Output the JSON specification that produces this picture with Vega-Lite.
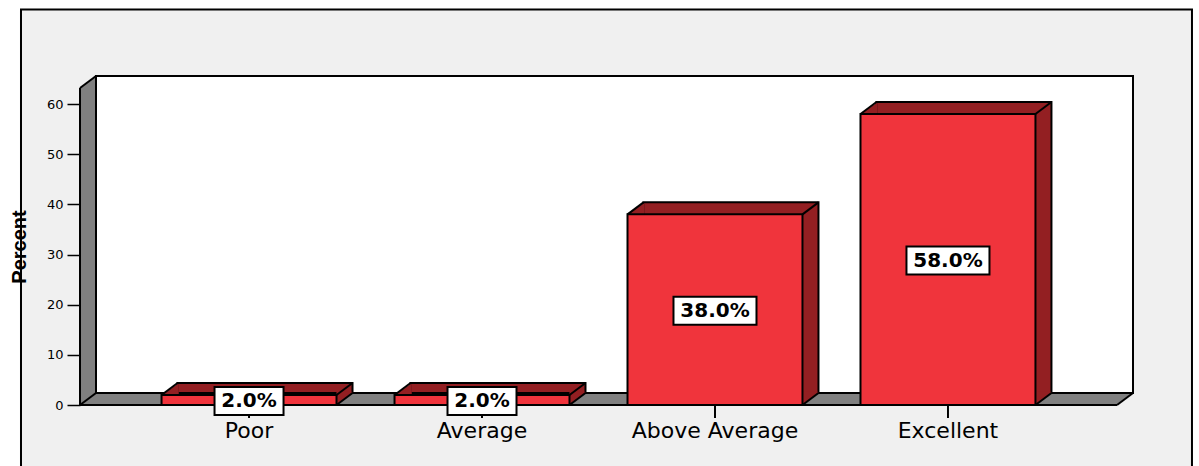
{
  "$schema": "https://vega.github.io/schema/vega-lite/v6.json",
  "width": 1037,
  "height": 317,
  "autosize": "none",
  "padding": {"left": 80, "top": 88, "right": 82, "bottom": 61},
  "background": "white",
  "config": {"view": {"stroke": null}},
  "datasets": {
    "freq": [
      {"rating": "Poor", "pct": 2, "label": "2.0%"},
      {"rating": "Average", "pct": 2, "label": "2.0%"},
      {"rating": "Above Average", "pct": 38, "label": "38.0%"},
      {"rating": "Excellent", "pct": 58, "label": "58.0%"}
    ]
  },
  "layer": [
    {
      "data": {"values": [{}]},
      "layer": [
        {
          "mark": {"type": "rect", "fill": "#f0f0f0", "stroke": "black", "strokeWidth": 2},
          "encoding": {
            "x": {"datum": -0.0569, "type": "quantitative", "scale": {"domain": [0, 1], "nice": false, "zero": false}, "axis": null},
            "x2": {"datum": 1.0723},
            "y": {"datum": 78.84, "type": "quantitative", "scale": {"domain": [0, 63.19], "nice": false, "zero": false}, "axis": null},
            "y2": {"datum": -13}
          }
        },
        {
          "mark": {"type": "rect", "fill": "#808080", "x2Offset": 16},
          "encoding": {
            "x": {"datum": 0, "type": "quantitative", "scale": {"domain": [0, 1], "nice": false, "zero": false}, "axis": null},
            "x2": {"datum": 0},
            "y": {"datum": 0, "type": "quantitative", "scale": {"domain": [0, 63.19], "nice": false, "zero": false}, "axis": null},
            "y2": {"datum": 63.19}
          }
        },
        {
          "mark": {"type": "rect", "fill": "#808080", "xOffset": 16, "yOffset": -12},
          "encoding": {
            "x": {"datum": 0, "type": "quantitative", "scale": {"domain": [0, 1], "nice": false, "zero": false}, "axis": null},
            "x2": {"datum": 1},
            "y": {"datum": 0, "type": "quantitative", "scale": {"domain": [0, 63.19], "nice": false, "zero": false}, "axis": null},
            "y2": {"datum": 0}
          }
        },
        {
          "mark": {"type": "point", "shape": "M-1,0.75L1,-0.75L1,0.75Z", "size": 256, "filled": true, "fill": "#808080", "opacity": 1, "strokeWidth": 0, "xOffset": 8, "yOffset": -6},
          "encoding": {
            "x": {"datum": 0, "type": "quantitative", "scale": {"domain": [0, 1], "nice": false, "zero": false}, "axis": null},
            "y": {"datum": 63.19, "type": "quantitative", "scale": {"domain": [0, 63.19], "nice": false, "zero": false}, "axis": null}
          }
        },
        {
          "mark": {"type": "point", "shape": "M-1,-0.75L-1,0.75L1,-0.75Z", "size": 256, "filled": true, "fill": "#808080", "opacity": 1, "strokeWidth": 0, "xOffset": 8, "yOffset": -6},
          "encoding": {
            "x": {"datum": 1, "type": "quantitative", "scale": {"domain": [0, 1], "nice": false, "zero": false}, "axis": null},
            "y": {"datum": 0, "type": "quantitative", "scale": {"domain": [0, 63.19], "nice": false, "zero": false}, "axis": null}
          }
        },
        {
          "mark": {"type": "rect", "fill": "white", "stroke": "black", "strokeWidth": 2, "xOffset": 16, "x2Offset": 16, "yOffset": -12, "y2Offset": -12},
          "encoding": {
            "x": {"datum": 0, "type": "quantitative", "scale": {"domain": [0, 1], "nice": false, "zero": false}, "axis": null},
            "x2": {"datum": 1},
            "y": {"datum": 0, "type": "quantitative", "scale": {"domain": [0, 63.19], "nice": false, "zero": false}, "axis": null},
            "y2": {"datum": 63.19}
          }
        },
        {
          "mark": {"type": "rule", "color": "black", "strokeWidth": 2},
          "encoding": {
            "x": {"datum": 0, "type": "quantitative", "scale": {"domain": [0, 1], "nice": false, "zero": false}, "axis": null},
            "y": {"datum": 0, "type": "quantitative", "scale": {"domain": [0, 63.19], "nice": false, "zero": false}, "axis": null},
            "y2": {"datum": 63.19}
          }
        },
        {
          "mark": {"type": "rule", "color": "black", "strokeWidth": 2},
          "encoding": {
            "x": {"datum": 0, "type": "quantitative", "scale": {"domain": [0, 1], "nice": false, "zero": false}, "axis": null},
            "x2": {"datum": 1},
            "y": {"datum": 0, "type": "quantitative", "scale": {"domain": [0, 63.19], "nice": false, "zero": false}, "axis": null}
          }
        },
        {
          "mark": {"type": "point", "shape": "M-1,0.75L1,-0.75", "size": 256, "filled": false, "stroke": "black", "strokeWidth": 2, "opacity": 1, "xOffset": 8, "yOffset": -6},
          "encoding": {
            "x": {"datum": 0, "type": "quantitative", "scale": {"domain": [0, 1], "nice": false, "zero": false}, "axis": null},
            "y": {"datum": 63.19, "type": "quantitative", "scale": {"domain": [0, 63.19], "nice": false, "zero": false}, "axis": null}
          }
        },
        {
          "mark": {"type": "point", "shape": "M-1,0.75L1,-0.75", "size": 256, "filled": false, "stroke": "black", "strokeWidth": 2, "opacity": 1, "xOffset": 8, "yOffset": -6},
          "encoding": {
            "x": {"datum": 0, "type": "quantitative", "scale": {"domain": [0, 1], "nice": false, "zero": false}, "axis": null},
            "y": {"datum": 0, "type": "quantitative", "scale": {"domain": [0, 63.19], "nice": false, "zero": false}, "axis": null}
          }
        },
        {
          "mark": {"type": "point", "shape": "M-1,0.75L1,-0.75", "size": 256, "filled": false, "stroke": "black", "strokeWidth": 2, "opacity": 1, "xOffset": 8, "yOffset": -6},
          "encoding": {
            "x": {"datum": 1, "type": "quantitative", "scale": {"domain": [0, 1], "nice": false, "zero": false}, "axis": null},
            "y": {"datum": 0, "type": "quantitative", "scale": {"domain": [0, 63.19], "nice": false, "zero": false}, "axis": null}
          }
        }
      ]
    },
    {
      "data": {"name": "freq"},
      "encoding": {
        "x": {
          "field": "rating", "type": "nominal",
          "sort": ["Poor", "Average", "Above Average", "Excellent"],
          "scale": {"type": "band", "paddingInner": 0.249, "paddingOuter": 0.35},
          "axis": {"orient": "bottom", "title": null, "domain": false, "grid": false, "ticks": false, "labelFont": "DejaVu Sans", "labelFontSize": 22, "labelColor": "black", "labelPadding": 15, "labelAngle": 0, "zindex": 1}
        },
        "y": {
          "field": "pct", "type": "quantitative",
          "scale": {"domain": [0, 63.19], "nice": false, "zero": false},
          "axis": {"orient": "left", "values": [0, 10, 20, 30, 40, 50, 60], "domain": false, "grid": false, "tickSize": 13, "tickWidth": 1.5, "tickColor": "black", "labelFont": "DejaVu Sans", "labelFontSize": 13, "labelColor": "black", "labelPadding": 4, "title": "Percent", "titleFont": "Liberation Sans", "titleFontSize": 20, "titleFontWeight": "bold", "titleColor": "black", "titlePadding": 17, "zindex": 1}
        }
      },
      "layer": [
        {
          "mark": {"type": "rule", "color": "black", "strokeWidth": 2, "y2Offset": 13},
          "encoding": {"y": {"datum": 0, "type": "quantitative"}, "y2": {"datum": 0}}
        },
        {
          "mark": {"type": "bar", "fill": "#931f22", "stroke": "black", "strokeWidth": 2, "xOffset": 16, "yOffset": -12, "y2Offset": -12},
          "encoding": {"y2": {"datum": 0}}
        },
        {
          "mark": {"type": "point", "shape": "M-1,0.75L1,-0.625L1.15,-0.625L1.15,0.75Z", "size": 256, "filled": true, "fill": "#931f22", "opacity": 1, "strokeWidth": 0, "xOffset": 8, "yOffset": -6},
          "encoding": {
            "x": {"field": "rating", "type": "nominal", "sort": ["Poor", "Average", "Above Average", "Excellent"], "bandPosition": 0}
          }
        },
        {
          "mark": {"type": "point", "shape": "M-1,-0.9L0.875,-0.9L1,-0.75L-1,0.75Z", "size": 256, "filled": true, "fill": "#931f22", "opacity": 1, "strokeWidth": 0, "xOffset": 8, "yOffset": -6},
          "encoding": {
            "x": {"field": "rating", "type": "nominal", "sort": ["Poor", "Average", "Above Average", "Excellent"], "bandPosition": 1},
            "y": {"datum": 0, "type": "quantitative"}
          }
        },
        {
          "mark": {"type": "point", "shape": "M-1,0.75L1,-0.75", "size": 256, "filled": false, "stroke": "black", "strokeWidth": 2, "opacity": 1, "xOffset": 8, "yOffset": -6},
          "encoding": {
            "x": {"field": "rating", "type": "nominal", "sort": ["Poor", "Average", "Above Average", "Excellent"], "bandPosition": 0}
          }
        },
        {
          "mark": {"type": "point", "shape": "M-1,0.75L1,-0.75", "size": 256, "filled": false, "stroke": "black", "strokeWidth": 2, "opacity": 1, "xOffset": 8, "yOffset": -6},
          "encoding": {
            "x": {"field": "rating", "type": "nominal", "sort": ["Poor", "Average", "Above Average", "Excellent"], "bandPosition": 1}
          }
        },
        {
          "mark": {"type": "point", "shape": "M-1,0.75L1,-0.75", "size": 256, "filled": false, "stroke": "black", "strokeWidth": 2, "opacity": 1, "xOffset": 8, "yOffset": -6},
          "encoding": {
            "x": {"field": "rating", "type": "nominal", "sort": ["Poor", "Average", "Above Average", "Excellent"], "bandPosition": 1},
            "y": {"datum": 0, "type": "quantitative"}
          }
        },
        {
          "mark": {"type": "bar", "fill": "#f0343c", "stroke": "black", "strokeWidth": 2}
        }
      ]
    },
    {
      "data": {"name": "freq"},
      "encoding": {
        "x": {
          "field": "rating", "type": "nominal",
          "sort": ["Poor", "Average", "Above Average", "Excellent"],
          "scale": {"type": "band", "paddingInner": 0.249, "paddingOuter": 0.35},
          "axis": null
        },
        "y": {
          "field": "pct", "type": "quantitative",
          "scale": {"domain": [0, 126.38], "nice": false, "zero": false},
          "axis": null
        }
      },
      "layer": [
        {
          "mark": {"type": "point", "filled": true, "fill": "white", "stroke": "black", "strokeWidth": 2, "opacity": 1, "yOffset": 1},
          "encoding": {
            "shape": {"condition": {"test": "datum.pct >= 10", "value": "M-1,-0.337L1,-0.337L1,0.337L-1,0.337Z"}, "value": "M-1,-0.406L1,-0.406L1,0.406L-1,0.406Z"},
            "size": {"condition": {"test": "datum.pct >= 10", "value": 6889}, "value": 4761}
          }
        },
        {
          "mark": {"type": "text", "font": "DejaVu Sans", "fontWeight": "bold", "fontSize": 20, "align": "center", "baseline": "middle", "color": "black", "yOffset": 1},
          "encoding": {"text": {"field": "label"}}
        }
      ]
    }
  ],
  "resolve": {"scale": {"x": "independent", "y": "independent"}}
}
